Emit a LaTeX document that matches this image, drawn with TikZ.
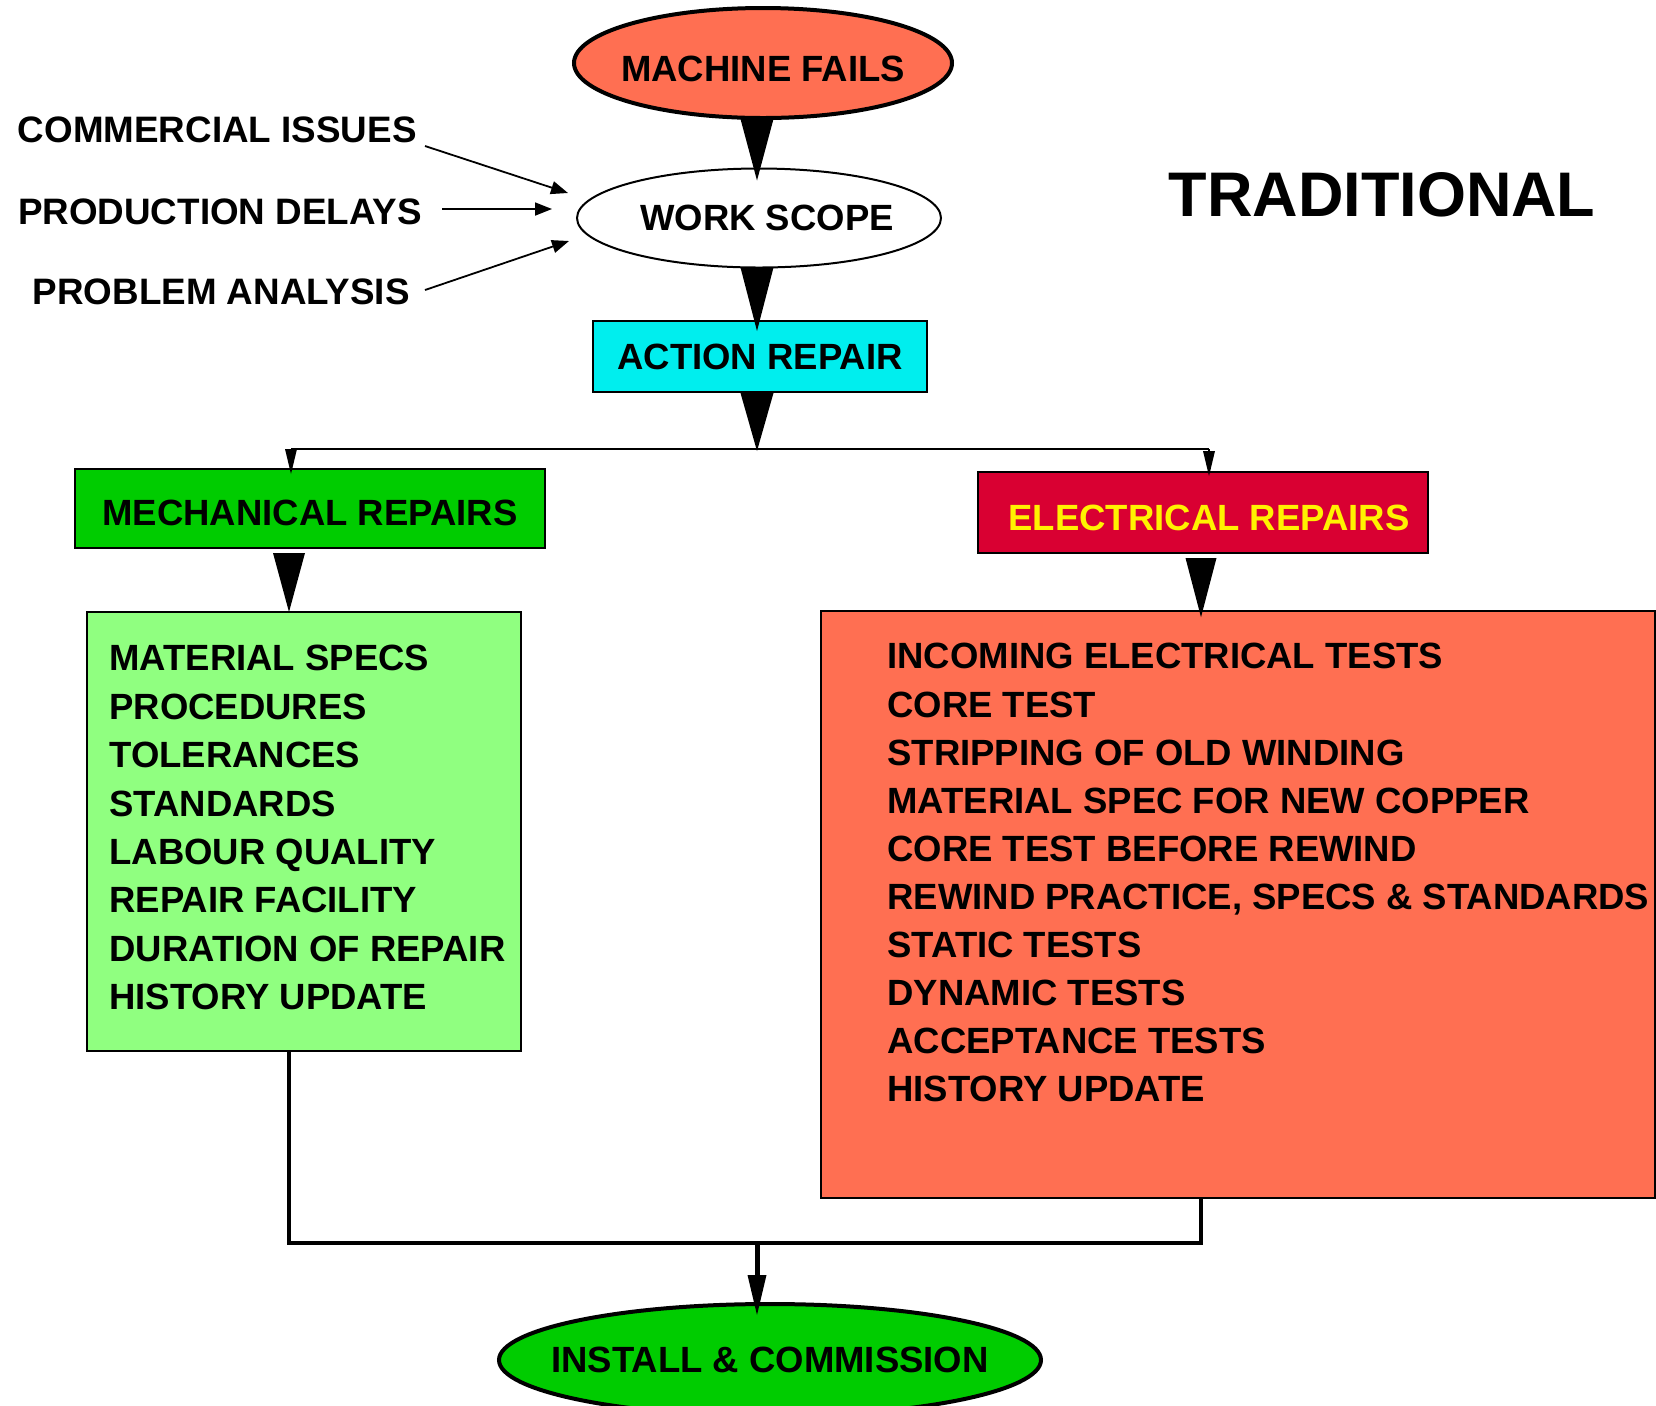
\documentclass[tikz,border=0pt]{standalone}
\usepackage{fontspec}
\setmainfont{Liberation Sans}
\usetikzlibrary{shapes.geometric,arrows.meta,calc}

\definecolor{failred}{RGB}{255,111,82}
\definecolor{actioncyan}{RGB}{0,238,238}
\definecolor{mechgreen}{RGB}{0,204,0}
\definecolor{listgreen}{RGB}{144,255,128}
\definecolor{eleccrimson}{RGB}{217,0,50}

\begin{document}
\begin{tikzpicture}[x=0.5pt,y=-0.5pt]
\tikzstyle{every node}=[font=\fontsize{18.25}{24.2}\selectfont\bfseries,inner sep=0pt]
\tikzstyle{bubble}=[ellipse,draw,line width=2pt]
\tikzstyle{blok}=[rectangle,draw,line width=1pt]
\tikzstyle{side}=[anchor=east,font=\fontsize{18.4}{22}\selectfont\bfseries]
\tikzstyle{feed}=[-{Triangle[length=8.5pt,width=6.5pt]},line width=0.9pt]
\tikzstyle{branch}=[-{Triangle[length=12.5pt,width=6pt,line width=0pt]},line width=1pt]
\tikzstyle{install}=[-{Triangle[length=20pt,width=9.5pt,line width=0pt]},line width=2.5pt]
\useasboundingbox (0,0) rectangle (1656,1405);

\node[bubble,fill=failred,minimum width=189pt,minimum height=55pt,label={[yshift=-3pt]center:MACHINE FAILS}] (mf) at (763,63) {};
\node[bubble,line width=1pt,fill=white,minimum width=182pt,minimum height=49.5pt,label={[xshift=4pt]center:WORK SCOPE}] (ws) at (759,218) {};
\node[blok,fill=actioncyan,minimum width=167pt,minimum height=35.5pt] (ar) at (760,356.5) {ACTION REPAIR};
\node[blok,fill=mechgreen,minimum width=235pt,minimum height=39.5pt,label={[yshift=-2pt]center:MECHANICAL REPAIRS}] (mech) at (310,508.5) {};
\node[blok,fill=eleccrimson,minimum width=225pt,minimum height=40.5pt,label={[yshift=-2.5pt,xshift=3pt,text=yellow]center:ELECTRICAL REPAIRS}] (elec) at (1203,512.5) {};
\node[blok,fill=listgreen,minimum width=217pt,minimum height=219.5pt] (mechlist) at (304,831.5) {};
\node[blok,line width=0.8pt,fill=failred,minimum width=417pt,minimum height=293.5pt] (eleclist) at (1238,904.5) {};
\node[bubble,fill=mechgreen,minimum width=271pt,minimum height=56pt,label={center:INSTALL \& COMMISSION}] (ic) at (770,1360) {};

\node[anchor=north west,align=left] (mechitems) at (109,645) {MATERIAL SPECS\\PROCEDURES\\TOLERANCES\\STANDARDS\\LABOUR QUALITY\\REPAIR FACILITY\\DURATION OF REPAIR\\HISTORY UPDATE};
\node[anchor=north west,align=left,font=\fontsize{18.25}{24.05}\selectfont\bfseries] (elecitems) at (887,643) {INCOMING ELECTRICAL TESTS\\CORE TEST\\STRIPPING OF OLD WINDING\\MATERIAL SPEC FOR NEW COPPER\\CORE TEST BEFORE REWIND\\REWIND PRACTICE, SPECS \& STANDARDS\\STATIC TESTS\\DYNAMIC TESTS\\ACCEPTANCE TESTS\\HISTORY UPDATE};

\node[font=\fontsize{31.5}{36}\selectfont\bfseries] (title) at (1382,194.5) {TRADITIONAL};
\node[side] (ci) at (417,130) {COMMERCIAL ISSUES};
\node[side] (pd) at (422,212) {PRODUCTION DELAYS};
\node[side] (pa) at (410,292) {PROBLEM ANALYSIS};

\coordinate (spine) at (757,0);
\coordinate (jn) at (757,449);
\coordinate (mcol) at (289,0);
\coordinate (ecol) at (1201,0);
\coordinate (mbr) at (291,0);
\coordinate (ebr) at (1209,0);
\coordinate (jn2) at (757,1243);

\draw[feed] ($(ci.east)+(8,16)$) -- ($(ws.west)+(-8,-25)$);
\draw[feed] ($(pd.east)+(20,-3)$) -- ($(ws.west)+(-24,-9)$);
\draw[feed] ($(pa.east)+(15,-2)$) -- ($(ws.west)+(-7,23)$);

\fill ($(mf.south -| spine)+(-16.5,-1)$) -- ++(33,0) -- ($(ws.north -| spine)+(0,13)$) -- cycle;
\fill ($(ws.south -| spine)+(-16.5,-1)$) -- ++(33,0) -- ($(ar.north -| spine)+(0,11)$) -- cycle;
\fill ($(ar.south -| spine)+(-16.5,0)$) -- ++(33,0) -- ($(jn)+(0,2)$) -- cycle;

\draw[line width=1pt] (jn -| mbr) -- (jn -| ebr);
\draw[branch] (jn -| mbr) -- ($(mech.north -| mbr)+(0,6)$);
\draw[branch] (jn -| ebr) -- ($(elec.north -| ebr)+(0,5)$);

\fill ($(mech.south -| mcol)+(-16,4)$) -- ++(32,0) -- ($(mechlist.north -| mcol)+(0,1)$) -- cycle;
\fill ($(elec.south -| ecol)+(-15.5,4)$) -- ++(31,0) -- ($(eleclist.north -| ecol)+(0,7)$) -- cycle;

\draw[line width=2pt] (mechlist.south -| mcol) -- (mcol |- jn2) -- (ecol |- jn2) -- (eleclist.south -| ecol);
\draw[install] (jn2) -- ($(ic.north -| jn2)+(0,13)$);
\end{tikzpicture}
\end{document}
